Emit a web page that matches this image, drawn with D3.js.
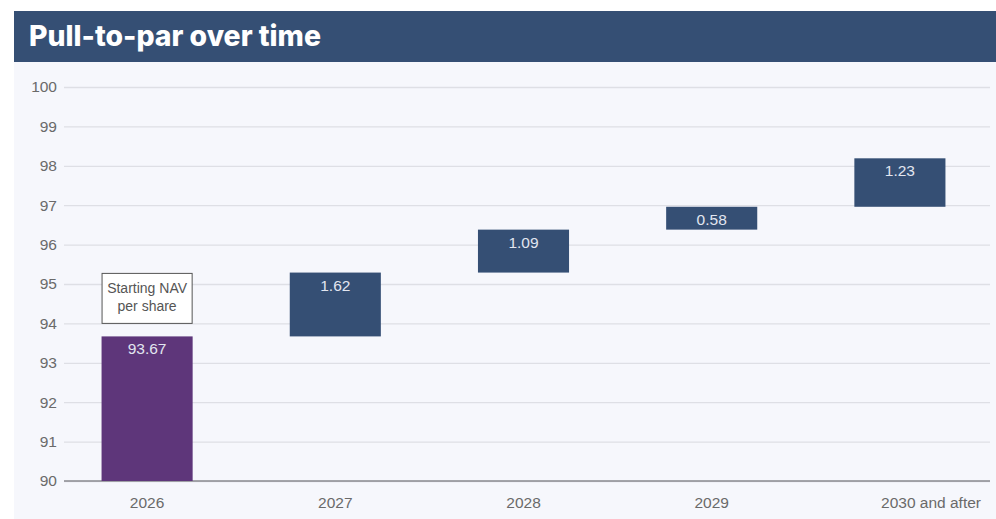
<!DOCTYPE html>
<html>
<head>
<meta charset="utf-8">
<script src="https://cdn.jsdelivr.net/npm/d3@7/dist/d3.min.js"></script>
<style>
  html, body { margin: 0; padding: 0; background: #ffffff; }
  svg { display: block; }
  text { font-family: "Liberation Sans", Arial, Helvetica, sans-serif; }
</style>
</head>
<body>
<svg id="chart" width="996" height="519"></svg>
<script>
// Waterfall: starting NAV per share, then yearly pull-to-par increments
const categories = ["2026", "2027", "2028", "2029", "2030 and after"];
const startingNav = 93.67;
const increments = [1.62, 1.09, 0.58, 1.23];
const yTicks = [90, 91, 92, 93, 94, 95, 96, 97, 98, 99, 100];
const titleText = "Pull-to-par over time";
const startLabelLines = ["Starting NAV", "per share"];

// Build the floating segments from the start value and the increments
const segments = [];
segments.push({ cat: categories[0], lo: 90, hi: startingNav, label: startingNav.toFixed(2), start: true });
let running = startingNav;
increments.forEach((v, i) => {
  segments.push({ cat: categories[i + 1], lo: running, hi: running + v, label: v.toFixed(2), start: false });
  running += v;
});

const svg = d3.select("#chart");

// Header banner and panel background
svg.append("rect").attr("x", 14).attr("y", 62).attr("width", 982).attr("height", 457).attr("fill", "#f6f7fc");
svg.append("rect").attr("x", 14).attr("y", 11).attr("width", 982).attr("height", 51).attr("fill", "#354f74");
const title = svg.append("text")
  .attr("x", 29).attr("y", 46)
  .attr("fill", "#ffffff")
  .style("font-family", "Inter, 'Open Sans', sans-serif")
  .style("font-weight", 800)
  .style("font-size", "27px")
  .text(titleText);
// keep the heading at its intended width
const tw = title.node().getComputedTextLength();
title.style("font-size", (27 * 292 / tw).toFixed(2) + "px");

const x = d3.scaleBand().domain(categories).range([53, 994]).paddingInner(0.516).paddingOuter(0.258);
const y = d3.scaleLinear().domain([90, 100]).range([481, 87]);

const gridLeft = 64, gridRight = 990;

// Horizontal gridlines with tick labels
const yAxis = svg.append("g").attr("transform", `translate(${gridLeft},0)`)
  .call(d3.axisLeft(y).tickValues(yTicks).tickSize(-(gridRight - gridLeft)).tickPadding(7).tickFormat(d3.format("d")));
yAxis.select(".domain").remove();
yAxis.selectAll(".tick line").attr("stroke", "#dedfe5").attr("stroke-width", 1.3);
yAxis.selectAll(".tick text").attr("fill", "#6a6a6a").style("font-size", "15.5px");

// Baseline
svg.append("line").attr("x1", gridLeft).attr("x2", gridRight).attr("y1", y(90)).attr("y2", y(90))
  .attr("stroke", "#8a8a8f").attr("stroke-width", 1.3);

// Category labels
const xAxis = svg.append("g").attr("transform", `translate(0,${y(90)})`)
  .call(d3.axisBottom(x).tickSize(0).tickPadding(22));
xAxis.select(".domain").remove();
xAxis.selectAll(".tick text").attr("fill", "#6a6a6a").style("font-size", "15.5px").attr("dy", "0.3em");
// the last, longer label is right-aligned near the panel edge
xAxis.selectAll(".tick").filter(d => d === categories[categories.length - 1]).select("text")
  .attr("text-anchor", "end")
  .attr("x", 981 - (x(categories[categories.length - 1]) + x.bandwidth() / 2));

// Bars
svg.append("g").selectAll("rect").data(segments).join("rect")
  .attr("x", d => x(d.cat))
  .attr("width", x.bandwidth())
  .attr("y", d => y(d.hi))
  .attr("height", d => y(d.lo) - y(d.hi))
  .attr("fill", d => d.start ? "#5e367a" : "#354f74");

// Value labels inside the top of each bar
svg.append("g").selectAll("text").data(segments).join("text")
  .attr("x", d => x(d.cat) + x.bandwidth() / 2)
  .attr("y", d => y(d.hi) + 18)
  .attr("text-anchor", "middle")
  .attr("fill", "#e2e6f0")
  .style("font-size", "15.5px")
  .text(d => d.label);

// Annotation box above the starting bar
const sx = x(categories[0]);
const boxTop = y(startingNav) - 63;
svg.append("rect").attr("x", sx + 0.5).attr("y", boxTop).attr("width", x.bandwidth() - 1).attr("height", 50)
  .attr("fill", "#ffffff").attr("stroke", "#555555").attr("stroke-width", 1);
svg.append("g").selectAll("text").data(startLabelLines).join("text")
  .attr("x", sx + x.bandwidth() / 2)
  .attr("y", (d, i) => boxTop + 20 + i * 18)
  .attr("text-anchor", "middle")
  .attr("fill", "#555555")
  .style("font-size", "14px")
  .text(d => d);
</script>
</body>
</html>
